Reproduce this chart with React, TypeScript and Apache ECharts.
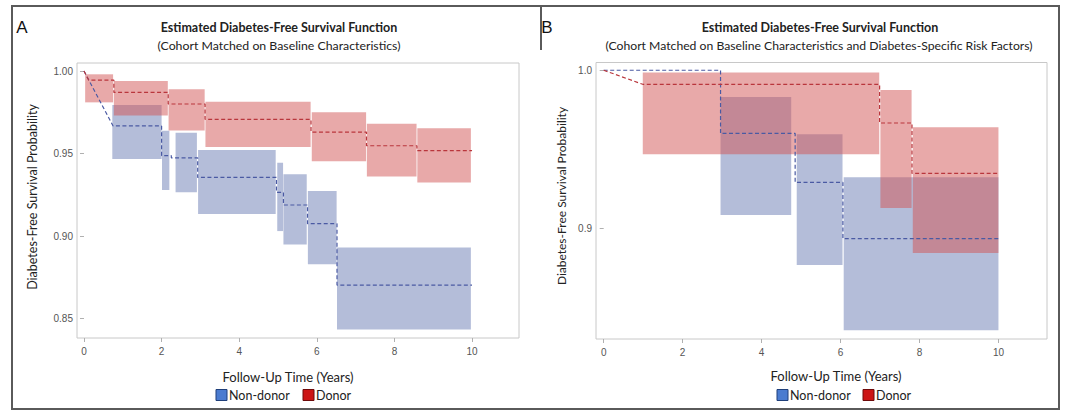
import React, { useEffect, useRef } from 'react';
import * as echarts from 'echarts';

// ---------- Data ----------
const xTicks = [0, 2, 4, 6, 8, 10];
const yTicksA = [0.85, 0.9, 0.95, 1.0];
const yTicksB = [0.9, 1.0];

// Panel A – Non-donor (step times / survival estimates)
const aNonTimes = [0.75, 2.0, 2.25, 2.93, 4.96, 5.14, 5.76, 6.52];
const aNonSurv = [0.9667, 0.9487, 0.9474, 0.9355, 0.9265, 0.9188, 0.9075, 0.8703];
// Panel A – Non-donor confidence bands: [start, end, lower, upper]
const aNonBandStart = [0.73, 2.01, 2.36, 2.94, 4.98, 5.14, 5.77, 6.52];
const aNonBandEnd = [2.0, 2.2, 2.91, 4.94, 5.13, 5.74, 6.51, 9.97];
const aNonBandLow = [0.9467, 0.9279, 0.9265, 0.9133, 0.903, 0.8948, 0.8829, 0.8434];
const aNonBandHigh = [0.9794, 0.9638, 0.9626, 0.9521, 0.9444, 0.9374, 0.9273, 0.8931];

// Panel A – Donor
const aDonTimes = [0.12, 0.77, 2.17, 3.12, 5.85, 7.28, 8.58];
const aDonSurv = [0.9945, 0.987, 0.98, 0.9707, 0.963, 0.9547, 0.9517];
const aDonBandStart = [0.03, 0.77, 2.18, 3.13, 5.87, 7.29, 8.59];
const aDonBandEnd = [0.75, 2.16, 3.11, 5.84, 7.27, 8.57, 9.97];
const aDonBandLow = [0.981, 0.973, 0.964, 0.954, 0.9453, 0.936, 0.9324];
const aDonBandHigh = [0.998, 0.994, 0.989, 0.9814, 0.975, 0.968, 0.9653];

// Panel B – Non-donor
const bNonTimes = [0.05, 2.96, 4.85, 6.06];
const bNonSurv = [1.0, 0.96, 0.929, 0.8934];
const bNonBandStart = [2.96, 4.89, 6.08];
const bNonBandEnd = [4.75, 6.05, 10.0];
const bNonBandLow = [0.9084, 0.8767, 0.8354];
const bNonBandHigh = [0.983, 0.9595, 0.9323];

// Panel B – Donor
const bDonTimes = [0.99, 6.99, 7.81];
const bDonSurv = [0.9911, 0.9666, 0.9347];
const bDonBandStart = [0.99, 7.01, 7.83];
const bDonBandEnd = [6.98, 7.8, 10.0];
const bDonBandLow = [0.9468, 0.9128, 0.8843];
const bDonBandHigh = [0.9985, 0.9875, 0.9639];

const endTime = 10;

// ---------- Styles ----------
const BLUE_LINE = '#4a5aa3';
const RED_LINE = '#b9363c';
const BLUE_FILL = 'rgba(105,124,180,0.5)';
const RED_FILL = 'rgba(210,84,84,0.5)';
const TEXT_FONT = 'Lato, "Open Sans", sans-serif';
const TICK_FONT = '"Liberation Sans", Arial, sans-serif';

function stepPath(times: number[], surv: number[]) {
  const pts: number[][] = [[0, 1.0]];
  times.forEach((t, i) => {
    if (i > 0) pts.push([t, surv[i - 1]]);
    pts.push([t, surv[i]]);
  });
  pts.push([endTime, surv[surv.length - 1]]);
  return pts;
}

function bands(s: number[], e: number[], lo: number[], hi: number[]) {
  return s.map((v, i) => [v, e[i], lo[i], hi[i]]);
}

function bandSeries(data: number[][], color: string, idx: number, z: number) {
  return {
    type: 'custom',
    xAxisIndex: idx,
    yAxisIndex: idx,
    z,
    silent: true,
    encode: { x: [0, 1], y: [2, 3] },
    data,
    renderItem: (params: any, api: any) => {
      const p0 = api.coord([api.value(0), api.value(3)]);
      const p1 = api.coord([api.value(1), api.value(2)]);
      return {
        type: 'rect',
        shape: { x: p0[0], y: p0[1], width: p1[0] - p0[0], height: p1[1] - p0[1] },
        style: { fill: color, stroke: null },
      };
    },
  };
}

function lineSeries(data: number[][], color: string, idx: number) {
  return {
    type: 'line',
    xAxisIndex: idx,
    yAxisIndex: idx,
    z: 5,
    data,
    showSymbol: false,
    symbol: 'none',
    silent: true,
    lineStyle: { color, width: 1.2, type: [4, 2.5] },
  };
}

function xAxis(idx: number, min: number, max: number) {
  return {
    type: 'value',
    gridIndex: idx,
    min,
    max,
    splitLine: { show: false },
    axisLine: { show: false },
    axisTick: { show: true, customValues: xTicks, length: 4, lineStyle: { color: '#b0b0b0' } },
    axisLabel: {
      customValues: xTicks,
      color: '#555',
      fontSize: 10,
      fontFamily: TICK_FONT,
      margin: 8,
      formatter: (v: number) => String(v),
    },
  };
}

function yAxis(idx: number, min: number, max: number, ticks: number[], digits: number) {
  return {
    type: 'value',
    gridIndex: idx,
    min,
    max,
    splitLine: { show: false },
    axisLine: { show: false },
    axisTick: { show: true, customValues: ticks, length: 4, lineStyle: { color: '#b0b0b0' } },
    axisLabel: {
      customValues: ticks,
      color: '#555',
      fontSize: 10,
      fontFamily: TICK_FONT,
      margin: 4,
      formatter: (v: number) => v.toFixed(digits),
    },
  };
}

function text(x: number, y: number, t: string, size: number, opts: any = {}) {
  return {
    type: 'text',
    x,
    y,
    rotation: opts.rotation || 0,
    style: {
      text: t,
      fill: opts.color || '#222',
      font: `${opts.bold ? 'bold ' : ''}${size}px ${opts.family || TEXT_FONT}`,
      align: opts.align || 'center',
      verticalAlign: 'middle',
    },
  };
}

function legend(y: number, pos: [number, number, number, number]) {
  const [bx, tx, rx, dx] = pos;
  return [
    { type: 'rect', shape: { x: bx, y: y - 5.5, width: 11, height: 11 }, style: { fill: '#4a7bd0', stroke: '#1f3f7a', lineWidth: 1 } },
    text(tx, y, 'Non-donor', 12.5, { align: 'left' }),
    { type: 'rect', shape: { x: rx, y: y - 5.5, width: 11, height: 11 }, style: { fill: '#cc1414', stroke: '#6e0a0a', lineWidth: 1 } },
    text(dx, y, 'Donor', 12.5, { align: 'left' }),
  ];
}

export default function App() {
  const ref = useRef<HTMLDivElement>(null);
  useEffect(() => {
    document.body.style.margin = '0';
    if (!ref.current) return;
    const chart = echarts.init(ref.current, undefined, { renderer: 'svg' });
    const option: any = {
      animation: false,
      backgroundColor: '#ffffff',
      grid: [
        { left: 77, top: 63, width: 442, height: 275, show: true, borderColor: '#c8c8c8', borderWidth: 1, backgroundColor: '#fff' },
        { left: 596, top: 62.5, width: 451, height: 276.5, show: true, borderColor: '#c8c8c8', borderWidth: 1, backgroundColor: '#fff' },
      ],
      xAxis: [xAxis(0, -0.18, 11.21), xAxis(1, -0.195, 11.23)],
      yAxis: [yAxis(0, 0.8382, 1.00485, yTicksA, 2), yAxis(1, 0.8299, 1.0049, yTicksB, 1)],
      series: [
        bandSeries(bands(aNonBandStart, aNonBandEnd, aNonBandLow, aNonBandHigh), BLUE_FILL, 0, 2),
        bandSeries(bands(aDonBandStart, aDonBandEnd, aDonBandLow, aDonBandHigh), RED_FILL, 0, 3),
        lineSeries(stepPath(aNonTimes, aNonSurv), BLUE_LINE, 0),
        lineSeries(stepPath(aDonTimes, aDonSurv), RED_LINE, 0),
        bandSeries(bands(bNonBandStart, bNonBandEnd, bNonBandLow, bNonBandHigh), BLUE_FILL, 1, 2),
        bandSeries(bands(bDonBandStart, bDonBandEnd, bDonBandLow, bDonBandHigh), RED_FILL, 1, 3),
        lineSeries(stepPath(bNonTimes, bNonSurv), BLUE_LINE, 1),
        lineSeries(stepPath(bDonTimes, bDonSurv), RED_LINE, 1),
      ],
      graphic: [
        { type: 'rect', shape: { x: 12, y: 6, width: 1047, height: 403 }, style: { fill: 'none', stroke: '#5a5a5a', lineWidth: 2 } },
        { type: 'line', shape: { x1: 541, y1: 6, x2: 541, y2: 50 }, style: { stroke: '#5a5a5a', lineWidth: 2 } },
        text(22, 27, 'A', 17, { family: TICK_FONT, color: '#111' }),
        text(547, 27, 'B', 17, { family: TICK_FONT, color: '#111' }),
        text(279, 27, 'Estimated Diabetes-Free Survival Function', 12.5, { bold: true }),
        text(279, 45, '(Cohort Matched on Baseline Characteristics)', 12.3),
        text(820, 27, 'Estimated Diabetes-Free Survival Function', 12.5, { bold: true }),
        text(819, 45, '(Cohort Matched on Baseline Characteristics and Diabetes-Specific Risk Factors)', 12.2),
        text(32, 197, 'Diabetes-Free Survival Probability', 12.5, { rotation: Math.PI / 2 }),
        text(561, 196, 'Diabetes-Free Survival Probability', 12, { rotation: Math.PI / 2 }),
        text(288, 377, 'Follow-Up Time (Years)', 13),
        text(836, 376, 'Follow-Up Time (Years)', 13),
        ...legend(395, [216, 229, 303, 316]),
        ...legend(395, [777, 790, 863, 876]),
      ],
    };
    chart.setOption(option);
    return () => chart.dispose();
  }, []);
  return <div ref={ref} style={{ width: 1065, height: 411 }} />;
}
